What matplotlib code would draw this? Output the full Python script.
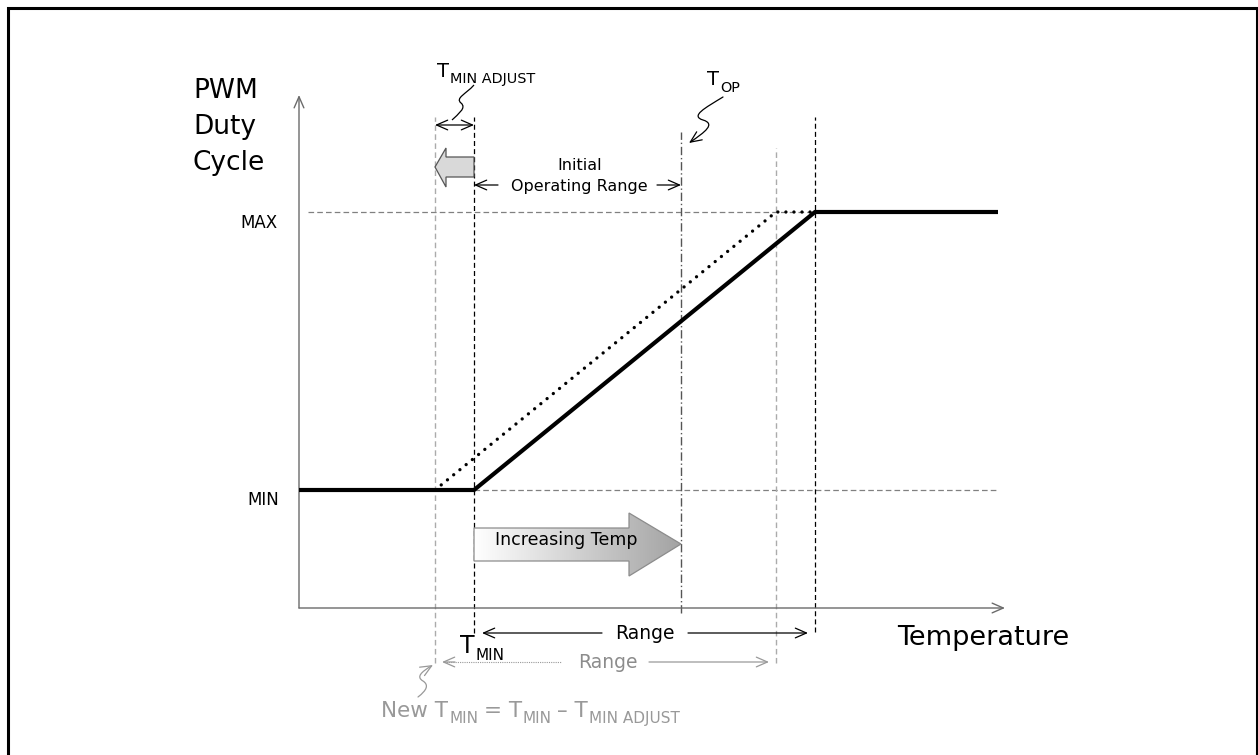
import matplotlib
matplotlib.use('Agg')
import matplotlib.pyplot as plt
import matplotlib.transforms as mtransforms
import numpy as np
from matplotlib.patches import Polygon, Rectangle, FancyArrowPatch, PathPatch
from matplotlib.path import Path
from matplotlib.colors import LinearSegmentedColormap

# temperature in diagram units, measured from the duty-cycle axis
temp_min = 175
temp_min_adjust = 39
temp_op = 382
temp_range = 341
temp_end = 699
temp_axis_end = 706

# duty cycle in diagram units, measured from the temperature axis
duty_min = 118
duty_max = 396
duty_axis_end = 513

# initial response and response after T_MIN adjustment
curve_temp = [0, 175, 516, 699]
curve_duty = [118, 118, 396, 396]
adjusted_temp = [136, 477, 516]
adjusted_duty = [118, 396, 396]

new_temp_min = temp_min - temp_min_adjust
temp_max = temp_min + temp_range
new_temp_max = new_temp_min + temp_range

ylabel_lines = ['PWM', 'Duty', 'Cycle']

fig = plt.figure(figsize=(12.58, 7.55), dpi=100)
ax = fig.add_axes([0, 0, 1, 1])
ax.set_axis_off()

# outer frame
fig.add_artist(Rectangle((8 / 1258, -0.05), 1248.5 / 1258, 1.05 - 8 / 755,
                         transform=fig.transFigure, fill=False, lw=2.2, ec='black'))

head = '->,head_length=0.8,head_width=0.35'

# axes with open arrow heads
ax.annotate('', xy=(0, duty_axis_end), xytext=(0, 0),
            arrowprops=dict(arrowstyle=head, color='#6b6b6b', lw=1, shrinkA=0, shrinkB=0))
ax.annotate('', xy=(temp_axis_end, 0), xytext=(0, 0),
            arrowprops=dict(arrowstyle=head, color='#6b6b6b', lw=1, shrinkA=0, shrinkB=0))

# guide lines
dash = (0, (4.5, 2.5))
ax.plot([9, temp_end], [duty_max, duty_max], color='#808080', lw=0.9, ls=dash)
ax.plot([temp_min, temp_end], [duty_min, duty_min], color='#808080', lw=0.9, ls=dash)
ax.plot([temp_min, temp_min], [-25, 491], color='black', lw=0.9, ls=(0, (4, 2.5)))
ax.plot([temp_max, temp_max], [-24, 491], color='black', lw=0.9, ls=(0, (4, 2.5)))
ax.plot([new_temp_min, new_temp_min], [-55, 491], color='#ababab', lw=1, ls=(0, (4, 2.5)))
ax.plot([new_temp_max, new_temp_max], [-55, 460], color='#ababab', lw=1, ls=(0, (4, 2.5)))
ax.plot([temp_op, temp_op], [-5, 476], color='#555555', lw=1, ls=(0, (6, 2, 1, 2)))

# duty cycle curves
ax.plot(curve_temp, curve_duty, color='black', lw=3, solid_capstyle='butt', zorder=5)
ax.plot(adjusted_temp, adjusted_duty, color='black', lw=2.4, ls=(0, (0.01, 2.4)),
        dash_capstyle='round', zorder=5)

# axis texts
for i, line in enumerate(ylabel_lines):
    ax.text(-106, 510 - 36 * i, line, fontsize=19, ha='left', va='baseline')
ax.text(598, -37, 'Temperature', fontsize=19.5, ha='left', va='baseline')
ax.text(-21, duty_max - 16, 'MAX', fontsize=12, ha='right', va='baseline')
ax.text(-20, duty_min - 15, 'MIN', fontsize=12, ha='right', va='baseline')


def sub_label(x, y, pieces, color='black'):
    renderer = fig.canvas.get_renderer()
    dx = 0.0
    for text, size, drop, gap in pieces:
        dx += gap
        tr = mtransforms.offset_copy(ax.transData, fig=fig, x=dx, y=-drop, units='points')
        t = ax.text(x, y, text, fontsize=size, color=color, ha='left', va='baseline',
                    transform=tr)
        dx += t.get_window_extent(renderer).width * 72 / fig.dpi


sub_label(138, 531, [('T', 14, 0, 0), ('MIN ADJUST', 10.4, 4.3, 0.8)])
sub_label(408, 523, [('T', 14, 0, 0), ('OP', 10.4, 5, 0.8)])
sub_label(161, -45, [('T', 17, 0, 0), ('MIN', 11, 5, 0.8)])
sub_label(82, -109, [('New T', 15.5, 0, 0), ('MIN', 11, 4.3, 0.8),
                     ('= T', 15.5, 0, 4), ('MIN', 11, 4.3, 0.8),
                     ('\u2013 T', 15.5, 0, 4), ('MIN ADJUST', 11, 4.3, 0.8)],
          color='#999999')

# T_MIN ADJUST marker
ax.annotate('', xy=(new_temp_min, 483), xytext=(temp_min, 483),
            arrowprops=dict(arrowstyle='<->,head_length=0.8,head_width=0.35',
                            color='black', lw=0.9, shrinkA=0, shrinkB=0))
squiggle = Path([(175, 523), (167, 514), (156, 510), (162, 505),
                 (168, 500), (159, 494), (153, 488)],
                [Path.MOVETO] + [Path.CURVE4] * 6)
ax.add_patch(PathPatch(squiggle, fill=False, lw=0.9, ec='black'))

# left shift block arrow
shift = Polygon([(temp_min, 451), (new_temp_min + 11, 451), (new_temp_min + 11, 460),
                 (new_temp_min, 441), (new_temp_min + 11, 421), (new_temp_min + 11, 431),
                 (temp_min, 431)], closed=True, fc='#d9d9d9', ec='#555555', lw=0.9, zorder=4)
ax.add_patch(shift)

# initial operating range
ax.text(281, 438, 'Initial', fontsize=11.5, ha='center', va='baseline')
ax.text(280, 417, 'Operating Range', fontsize=11.5, ha='center', va='baseline')
ax.annotate('', xy=(temp_min, 423), xytext=(199, 423),
            arrowprops=dict(arrowstyle=head, color='black', lw=0.9, shrinkA=0, shrinkB=0))
ax.annotate('', xy=(temp_op, 423), xytext=(358, 423),
            arrowprops=dict(arrowstyle=head, color='black', lw=0.9, shrinkA=0, shrinkB=0))

# T_OP pointer
op_path = Path([(424, 511), (406, 500), (391, 492), (404, 488),
                (417, 484), (406, 476), (390, 465)],
               [Path.MOVETO] + [Path.CURVE4] * 6)
ax.add_patch(FancyArrowPatch(path=op_path, arrowstyle=head, mutation_scale=10,
                             color='black', lw=0.9))

# increasing temp gradient arrow
inc = Polygon([(temp_min, 80), (temp_op - 52, 80), (temp_op - 52, 95), (temp_op, 64),
               (temp_op - 52, 32), (temp_op - 52, 47), (temp_min, 47)],
              closed=True, fc='none', ec='#8c8c8c', lw=0.9, zorder=4)
ax.add_patch(inc)
grad = np.linspace(0, 1, 256).reshape(1, -1)
cmap = LinearSegmentedColormap.from_list('grey_fade', ['#ffffff', '#a3a3a3'])
im = ax.imshow(grad, extent=[temp_min, temp_op, 32, 95], cmap=cmap, aspect='auto',
               origin='lower', zorder=3)
im.set_clip_path(inc)
ax.text(267, 63, 'Increasing Temp', fontsize=12.5, ha='center', va='baseline', zorder=6)

# range arrows
ax.text(346, -31, 'Range', fontsize=13.5, ha='center', va='baseline')
ax.annotate('', xy=(temp_min + 8, -25), xytext=(303, -25),
            arrowprops=dict(arrowstyle=head, color='black', lw=0.9, shrinkA=0, shrinkB=0))
ax.annotate('', xy=(temp_max - 7, -25), xytext=(389, -25),
            arrowprops=dict(arrowstyle=head, color='black', lw=0.9, shrinkA=0, shrinkB=0))

ax.text(309, -60, 'Range', fontsize=13.5, ha='center', va='baseline', color='#8c8c8c')
ax.plot([new_temp_min + 9, 262], [-54, -54], color='#999999', lw=0.8, ls=(0, (1, 1)))
ax.annotate('', xy=(new_temp_min + 7, -54), xytext=(new_temp_min + 20, -54),
            arrowprops=dict(arrowstyle=head, color='#999999', lw=0.9, shrinkA=0, shrinkB=0))
ax.annotate('', xy=(new_temp_max - 7, -54), xytext=(350, -54),
            arrowprops=dict(arrowstyle=head, color='#999999', lw=0.9, shrinkA=0, shrinkB=0))

# new T_MIN pointer
new_path = Path([(119, -89), (128, -82), (130, -77), (124, -73),
                 (117, -69), (122, -64), (134, -57)],
                [Path.MOVETO] + [Path.CURVE4] * 6)
ax.add_patch(FancyArrowPatch(path=new_path, arrowstyle=head, mutation_scale=10,
                             color='#999999', lw=0.9))

ax.set_xlim(-299, 959)
ax.set_ylim(-147, 608)

fig.savefig('out.png', dpi=100)
